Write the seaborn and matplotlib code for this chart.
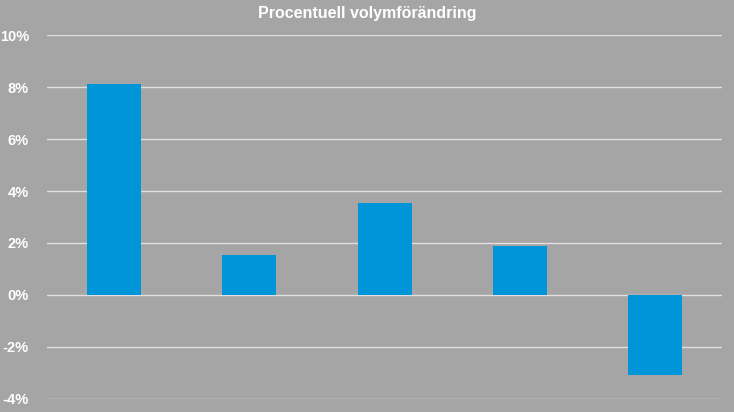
import pandas as pd
import matplotlib
matplotlib.use('Agg')
import matplotlib.pyplot as plt
import seaborn as sns

# Data
categories = ["A", "B", "C", "D", "E"]
values = [8.12, 1.52, 3.55, 1.88, -3.08]
yticks = [-4, -2, 0, 2, 4, 6, 8, 10]
ytick_labels = [f"{t}%" for t in yticks]

bg = "#A5A5A5"
bar_color = "#0094D9"

sns.set_theme(style="white")
plt.rcParams['font.family'] = ['Liberation Sans', 'DejaVu Sans']

df = pd.DataFrame({"cat": categories, "val": values})

fig = plt.figure(figsize=(7.34, 4.12), dpi=100, facecolor=bg)
ax = fig.add_axes([0.064, 0.0316, 0.9197, 0.8834])
ax.set_facecolor(bg)

sns.barplot(data=df, x="cat", y="val", color=bar_color, saturation=1,
            width=0.4, linewidth=0, edgecolor="none", ax=ax, zorder=3)

ax.set_ylim(-4, 10)
ax.set_xlim(-0.5, len(categories) - 0.5)
ax.set_yticks(yticks)
ax.set_yticklabels(ytick_labels, color="white", fontweight="bold", fontsize=10.5)
ax.tick_params(axis="y", length=0, pad=13)
ax.set_xticks([])
ax.set_xlabel("")
ax.set_ylabel("")
ax.grid(axis="y", color="#E0E0E0", linewidth=1, zorder=0)
for s in ax.spines.values():
    s.set_visible(False)

fig.text(0.5, 0.968, "Procentuell volymförändring", ha="center", va="center",
         color="white", fontweight="bold", fontsize=11.5)

fig.savefig("out.png", dpi=100, facecolor=bg)
